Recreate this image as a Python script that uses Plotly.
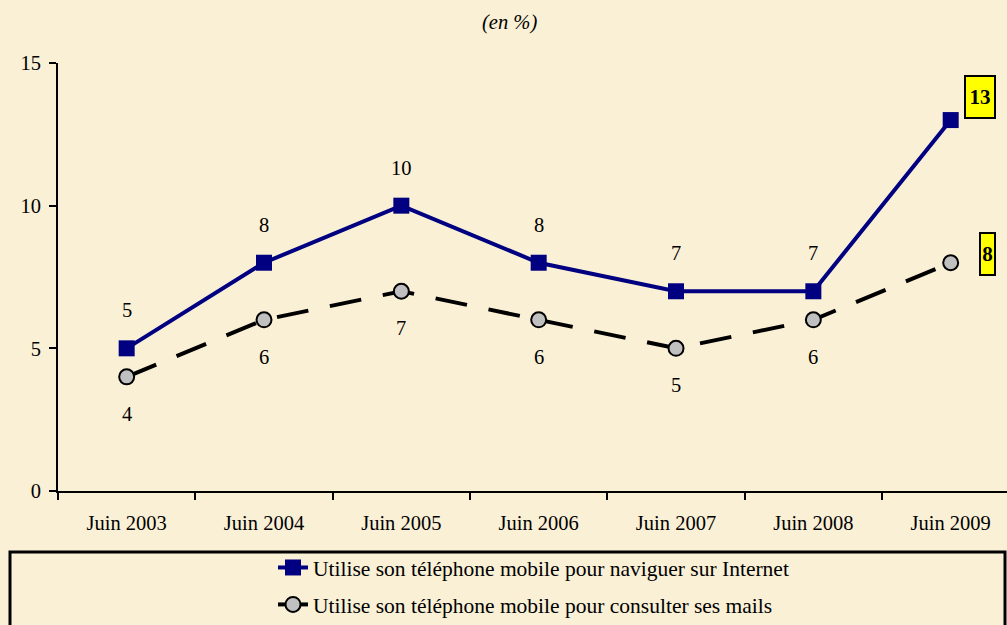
import plotly.graph_objects as go

categories = ["Juin 2003", "Juin 2004", "Juin 2005", "Juin 2006", "Juin 2007", "Juin 2008", "Juin 2009"]
internet = [5, 8, 10, 8, 7, 7, 13]
mails = [4, 6, 7, 6, 5, 6, 8]
name_internet = "Utilise son téléphone mobile pour naviguer sur Internet"
name_mails = "Utilise son téléphone mobile pour consulter ses mails"
y_ticks = [0, 5, 10, 15]

FONT = "Liberation Serif, Times New Roman, serif"
BG = "#FAF0D6"
FS = 20.5

fig = go.Figure()
fig.add_trace(go.Scatter(
    x=categories, y=internet, name=name_internet, mode="lines+markers",
    line=dict(color="#000080", width=4),
    marker=dict(symbol="square", size=16, color="#000080"),
    legendgroup="a",
))
fig.add_trace(go.Scatter(
    x=categories, y=mails, name=name_mails, mode="lines+markers",
    line=dict(color="black", width=4, dash="32px,22px"),
    marker=dict(symbol="circle", size=15, color="#C0C0C0", line=dict(color="black", width=2)),
    legendgroup="b",
))

annotations = []
n = len(categories)
for i in range(n - 1):
    annotations.append(dict(x=categories[i], y=internet[i], text=str(internet[i]), showarrow=False,
                            yshift=38, font=dict(family=FONT, size=FS, color="black")))
    annotations.append(dict(x=categories[i], y=mails[i], text=str(mails[i]), showarrow=False,
                            yshift=-37, font=dict(family=FONT, size=FS, color="black")))
annotations.append(dict(x=categories[-1], y=internet[-1], text="<b>%d</b>" % internet[-1], showarrow=False,
                        xshift=29, yshift=23, width=28, height=40, bgcolor="#FFFF00",
                        bordercolor="black", borderwidth=2, borderpad=0,
                        font=dict(family=FONT, size=21, color="black")))
annotations.append(dict(x=categories[-1], y=mails[-1], text="<b>%d</b>" % mails[-1], showarrow=False,
                        xshift=37, yshift=9, width=13, height=40, bgcolor="#FFFF00",
                        bordercolor="black", borderwidth=2, borderpad=0,
                        font=dict(family=FONT, size=21, color="black")))
annotations.append(dict(xref="paper", yref="paper", x=(509 - 58) / 949, y=1 + (63 - 22) / 428,
                        xanchor="center", yanchor="middle",
                        text="<i>(en %)</i>", showarrow=False,
                        font=dict(family=FONT, size=FS, color="black")))

fig.update_layout(
    width=1007, height=625,
    margin=dict(l=58, r=0, t=63, b=134, autoexpand=False),
    paper_bgcolor=BG, plot_bgcolor=BG,
    font=dict(family=FONT, size=FS, color="black"),
    showlegend=True,
    legend=dict(x=(273 - 58) / 949, y=(491 - 547) / 428, xanchor="left", yanchor="top",
                bgcolor="rgba(0,0,0,0)", font=dict(family=FONT, size=21.5, color="black"),
                tracegroupgap=6),
    annotations=annotations,
    shapes=[dict(type="rect", xref="paper", yref="paper",
                 x0=(10 - 58) / 949, x1=(1005 - 58) / 949,
                 y0=(491 - 552) / 428, y1=(491 - 640) / 428,
                 line=dict(color="black", width=3), fillcolor="rgba(0,0,0,0)", layer="below")],
)
fig.update_xaxes(type="category", range=[-0.5, 6.41], tickson="boundaries", ticks="outside",
                 ticklen=7, tickwidth=2, tickcolor="black", showline=True, linecolor="black",
                 linewidth=2, showgrid=False, zeroline=False, tickfont=dict(family=FONT, size=FS),
                 ticklabelstandoff=12)
fig.update_yaxes(range=[0, 15], tickvals=y_ticks, ticks="outside", ticklen=7, tickwidth=2,
                 tickcolor="black", showline=True, linecolor="black", linewidth=2,
                 showgrid=False, zeroline=False, tickfont=dict(family=FONT, size=FS),
                 ticklabelstandoff=4)

fig.write_html("out.html", config={"displayModeBar": False},
               post_script="document.body.style.margin='0';")
